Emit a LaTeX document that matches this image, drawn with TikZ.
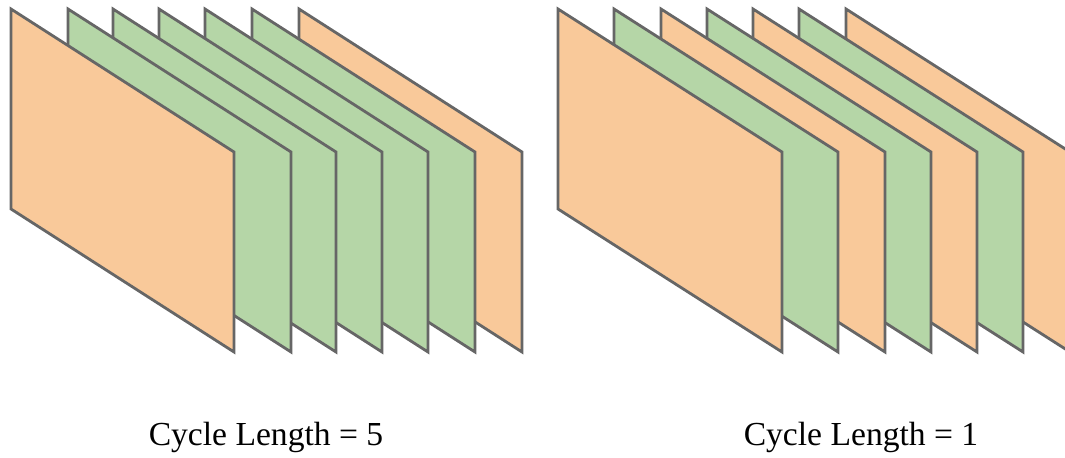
\documentclass[tikz,border=0pt]{standalone}
\usepackage{fontspec}
\setmainfont{Liberation Serif}
\usetikzlibrary{positioning}

\definecolor{peach}{HTML}{F9C99A}
\definecolor{leaf}{HTML}{B5D6A7}
\definecolor{edgegray}{HTML}{666666}

\begin{document}
\begin{tikzpicture}[x=0.5pt, y=-0.5pt]
	\tikzset{
		panel/.style={draw=edgegray, line width=1.4pt, line join=miter},
		caption/.style={anchor=base, inner sep=0pt, font=\fontsize{16.8}{20}\selectfont}
	}
	\useasboundingbox (0,0) rectangle (1065,458);
	\clip (0,0) rectangle (1065,458);
	
	% linke Gruppe, von hinten nach vorne
	\foreach \x/\c in {299/peach, 252/leaf, 205/leaf, 159/leaf, 113/leaf, 68/leaf, 11/peach} {
		\filldraw[panel, fill=\c] (\x,9) -- ++(223,143) -- ++(0,200) -- ++(-223,-143) -- cycle;
	}
	
	% rechte Gruppe, von hinten nach vorne
	\foreach \x/\c in {846/peach, 799/leaf, 753/peach, 707/leaf, 661/peach, 614/leaf, 558/peach} {
		\filldraw[panel, fill=\c] (\x,9) -- ++(224,143) -- ++(0,200) -- ++(-224,-143) -- cycle;
	}
	
	\node[caption] (lenA) at (266,446) {Cycle Length = 5};
	\node[caption] (lenB) at (861,446) {Cycle Length = 1};
\end{tikzpicture}
\end{document}
